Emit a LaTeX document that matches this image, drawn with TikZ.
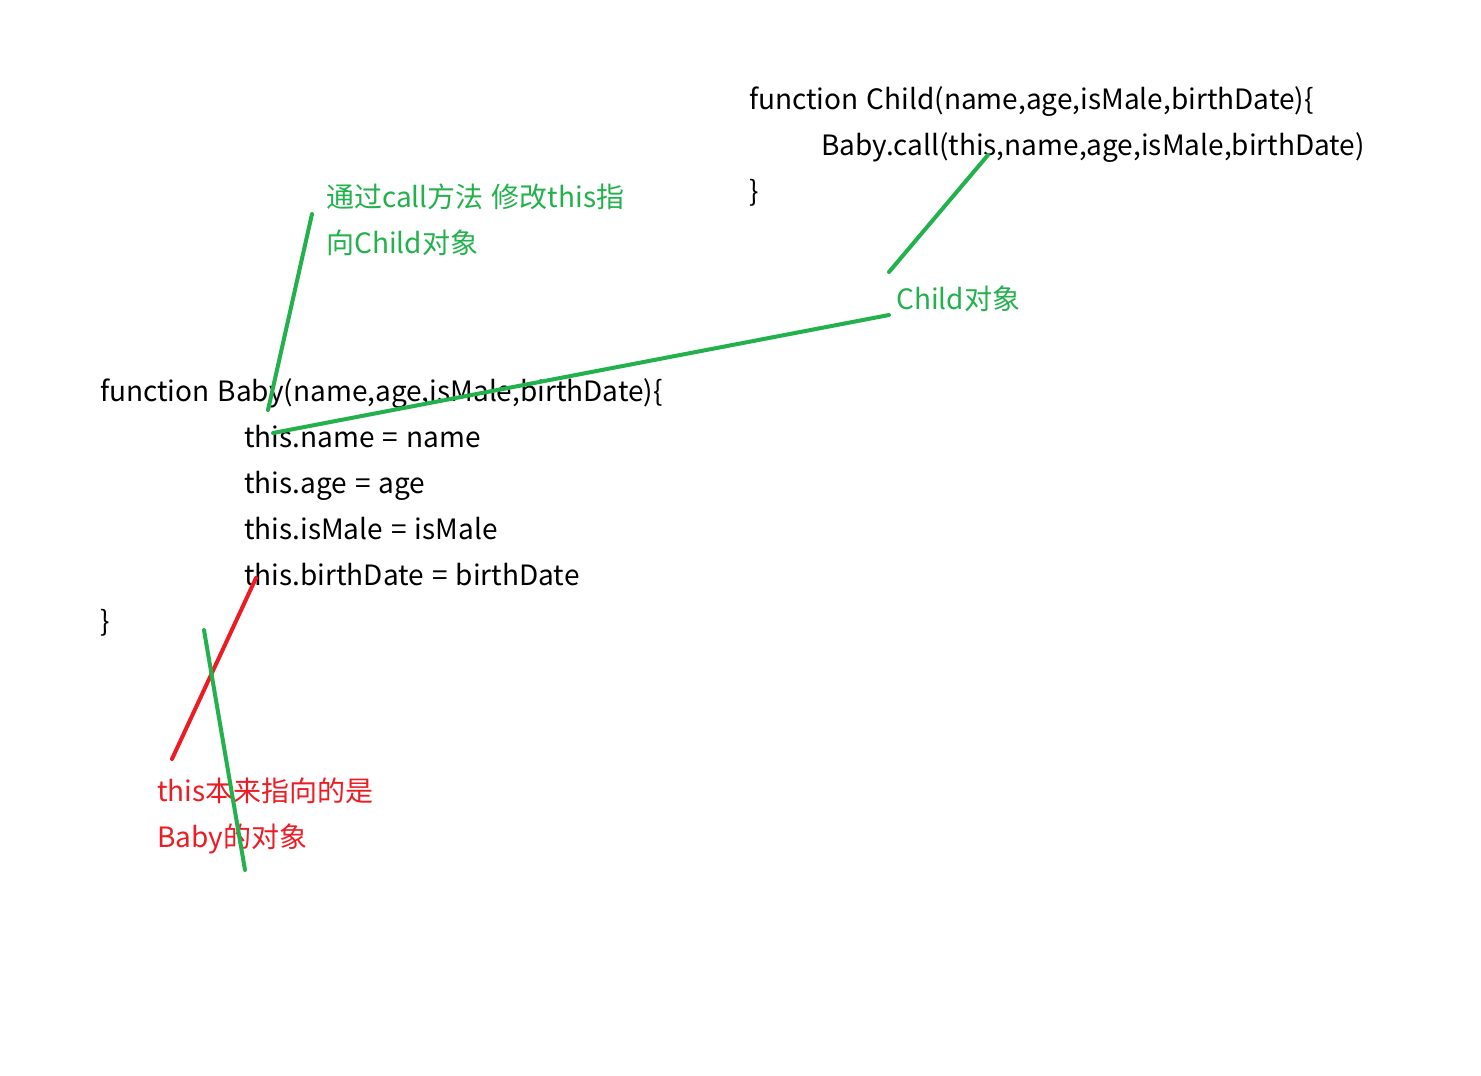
\documentclass[tikz,border=0pt]{standalone}
\usepackage{fontspec}
\setmainfont{Noto Sans CJK SC}[WordSpace=1.3]
\definecolor{pgreen}{RGB}{34,177,76}
\definecolor{pred}{RGB}{237,28,36}
\tikzset{
  code/.style={anchor=base west, inner sep=0pt, font=\fontsize{28}{32}\selectfont, text=black},
  gnote/.style={code, text=pgreen},
  rnote/.style={code, text=pred},
  gline/.style={draw=pgreen, line width=4pt, line cap=round},
  rline/.style={draw=pred, line width=4pt, line cap=round}
}
\begin{document}
\begin{tikzpicture}[x=1pt,y=-1pt]
\useasboundingbox[fill=white] (0,0) rectangle (1481,1076);
% Child function
\node[code] (c1) at (749,109) {function Child(name,age,isMale,birthDate)\{};
\node[code] (c2) at (821,155) {Baby.call(this,name,age,isMale,birthDate)};
\node[code] (c3) at (749,201) {\}};
% Baby function
\node[code] (b1) at (100,401) {function Baby(name,age,isMale,birthDate)\{};
\node[code] (b2) at (244,447) {this.name = name};
\node[code] (b3) at (244,493) {this.age = age};
\node[code] (b4) at (244,539) {this.isMale = isMale};
\node[code] (b5) at (244,585) {this.birthDate = birthDate};
\node[code] (b6) at (100,631) {\}};
% notes
\node[gnote] (n1) at (326,207) {通过call方法 修改this指};
\node[gnote] (n2) at (326,253) {向Child对象};
\node[gnote] (n3) at (896,309) {Child对象};
\node[rnote] (r1) at (157,801) {this本来指向的是};
\node[rnote] (r2) at (157,847) {Baby的对象};
% lines
\coordinate (p1) at (312,214); \coordinate (p2) at (268,410);
\coordinate (p3) at (988,155); \coordinate (p4) at (889,272);
\coordinate (p5) at (889,315); \coordinate (p6) at (273,433);
\coordinate (p7) at (256,578); \coordinate (p8) at (172,759);
\coordinate (p9) at (204,630); \coordinate (p10) at (245,870);
\draw[gline] (p1) -- (p2);
\draw[gline] (p3) -- (p4);
\draw[gline] (p5) -- (p6);
\draw[rline] (p7) -- (p8);
\draw[gline] (p9) -- (p10);
\end{tikzpicture}
\end{document}
